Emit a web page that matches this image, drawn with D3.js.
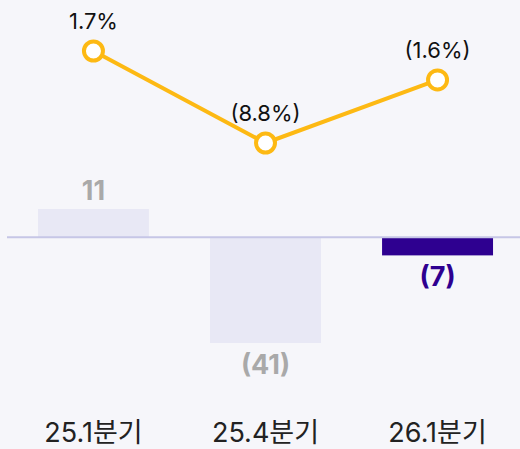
<!DOCTYPE html>
<html>
<head>
<meta charset="utf-8">
<script src="https://cdn.jsdelivr.net/npm/d3@7"></script>
<style>
  html, body { margin: 0; padding: 0; background: #f6f6fa; }
  svg { display: block; font-family: Inter, "Noto Sans CJK KR", sans-serif; }
</style>
</head>
<body>
<svg id="chart"></svg>
<script>
// quarterly data
const categories = ['25.1분기', '25.4분기', '26.1분기'];
const barValues  = [11, -41, -7];
const barLabels  = ['11', '(41)', '(7)'];
const rateValues = [1.7, -8.8, -1.6];
const rateLabels = ['1.7%', '(8.8%)', '(1.6%)'];

const W = 520, H = 449;
const svg = d3.select('#chart').attr('width', W).attr('height', H);

const x = d3.scaleBand()
  .domain(categories)
  .range([7, 524])
  .paddingInner(0.355)
  .paddingOuter(0.18);

// bar scale: zero at y=237
const yBar = d3.scaleLinear().domain([-41, 11]).range([343, 209]);
// line scale
const yLine = d3.scaleLinear().domain([-8.8, 1.7]).range([143, 51]);

const barColor = ['#e8e8f5', '#e8e8f5', '#2e0090'];
const barText  = ['#a9a9a9', '#a9a9a9', '#2e0090'];

// bars
svg.append('g').selectAll('rect')
  .data(barValues)
  .join('rect')
  .attr('x', (d, i) => x(categories[i]))
  .attr('width', x.bandwidth())
  .attr('y', d => Math.min(yBar(d), yBar(0)))
  .attr('height', d => Math.abs(yBar(d) - yBar(0)))
  .attr('fill', (d, i) => barColor[i]);

// zero line
svg.append('line')
  .attr('x1', 7).attr('x2', W)
  .attr('y1', yBar(0)).attr('y2', yBar(0))
  .attr('stroke', '#c6c6e6')
  .attr('stroke-width', 2);

// bar value labels
svg.append('g').selectAll('text')
  .data(barValues)
  .join('text')
  .attr('x', (d, i) => x(categories[i]) + x.bandwidth() / 2)
  .attr('y', d => d >= 0 ? yBar(d) - 9 : yBar(d) + 31)
  .attr('text-anchor', 'middle')
  .attr('font-size', 27)
  .attr('font-weight', 700)
  .attr('fill', (d, i) => barText[i])
  .text((d, i) => barLabels[i]);

// rate line
const cx = i => x(categories[i]) + x.bandwidth() / 2;
svg.append('path')
  .datum(rateValues)
  .attr('d', d3.line().x((d, i) => cx(i)).y(d => yLine(d)))
  .attr('fill', 'none')
  .attr('stroke', '#fdb913')
  .attr('stroke-width', 4);

svg.append('g').selectAll('circle')
  .data(rateValues)
  .join('circle')
  .attr('cx', (d, i) => cx(i))
  .attr('cy', d => yLine(d))
  .attr('r', 9.5)
  .attr('fill', '#fff')
  .attr('stroke', '#fdb913')
  .attr('stroke-width', 4);

svg.append('g').selectAll('text')
  .data(rateValues)
  .join('text')
  .attr('x', (d, i) => cx(i))
  .attr('y', d => yLine(d) - 22)
  .attr('text-anchor', 'middle')
  .attr('font-size', 22)
  .attr('font-weight', 400)
  .attr('fill', '#111')
  .text((d, i) => rateLabels[i]);

// category axis labels
svg.append('g').selectAll('text')
  .data(categories)
  .join('text')
  .attr('x', d => x(d) + x.bandwidth() / 2)
  .attr('y', 442)
  .attr('text-anchor', 'middle')
  .attr('font-size', 27)
  .attr('font-weight', 400)
  .attr('fill', '#222')
  .text(d => d);
</script>
</body>
</html>
